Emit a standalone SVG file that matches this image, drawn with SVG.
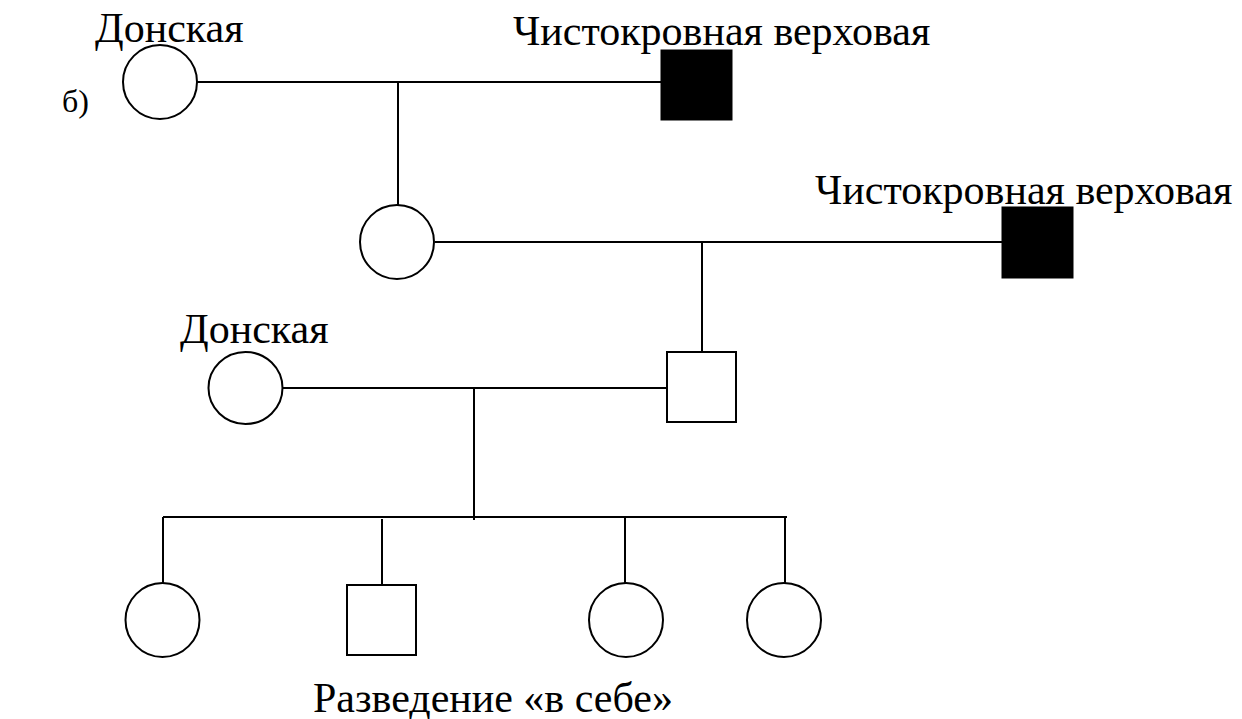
<svg xmlns="http://www.w3.org/2000/svg" width="1242" height="719" viewBox="0 0 1242 719">
<style>
.ln{stroke:#000;stroke-width:2;fill:none}
.open{fill:#fff;stroke:#000;stroke-width:2}
.fill{fill:#000;stroke:#000;stroke-width:1}
text{font-family:"Liberation Serif","Times New Roman",serif;font-size:42px;fill:#000}
</style>
<rect width="1242" height="719" fill="#fff"/>
<g id="connectors">
<line class="ln" x1="197" y1="82" x2="661" y2="82"/>
<line class="ln" x1="398" y1="82" x2="398" y2="205"/>
<line class="ln" x1="435" y1="242" x2="1002" y2="242"/>
<line class="ln" x1="702" y1="242" x2="702" y2="353"/>
<line class="ln" x1="282" y1="388" x2="668" y2="388"/>
<line class="ln" x1="474" y1="388" x2="474" y2="520"/>
<line class="ln" x1="163" y1="517" x2="787" y2="517"/>
<line class="ln" x1="163" y1="517" x2="163" y2="583"/>
<line class="ln" x1="382" y1="519" x2="382" y2="585"/>
<line class="ln" x1="625" y1="517" x2="625" y2="583"/>
<line class="ln" x1="785" y1="517" x2="785" y2="583"/>
</g>
<text id="label-b" x="62" y="112" style="font-size:32px">б)</text>
<g id="n1"><circle class="open" cx="160" cy="82" r="37"/><text x="95" y="42">Донская</text></g>
<g id="n2"><rect class="fill" x="661" y="50" width="71" height="70"/><text x="513" y="45">Чистокровная верховая</text></g>
<g id="n3"><circle class="open" cx="397" cy="242" r="37"/></g>
<g id="n4"><rect class="fill" x="1002" y="207" width="71" height="71"/><text x="815" y="204">Чистокровная верховая</text></g>
<g id="n5"><ellipse class="open" cx="245.5" cy="388" rx="37" ry="36"/><text x="180" y="343">Донская</text></g>
<g id="n6"><rect class="open" x="667" y="352" width="69" height="70"/></g>
<g id="c1"><circle class="open" cx="162.5" cy="620" r="37"/></g>
<g id="c2"><rect class="open" x="347" y="585" width="69" height="70"/></g>
<g id="c3"><circle class="open" cx="626" cy="620" r="37"/></g>
<g id="c4"><circle class="open" cx="784" cy="620" r="37"/></g>
<text id="caption" x="313" y="712">Разведение «в себе»</text>
</svg>
